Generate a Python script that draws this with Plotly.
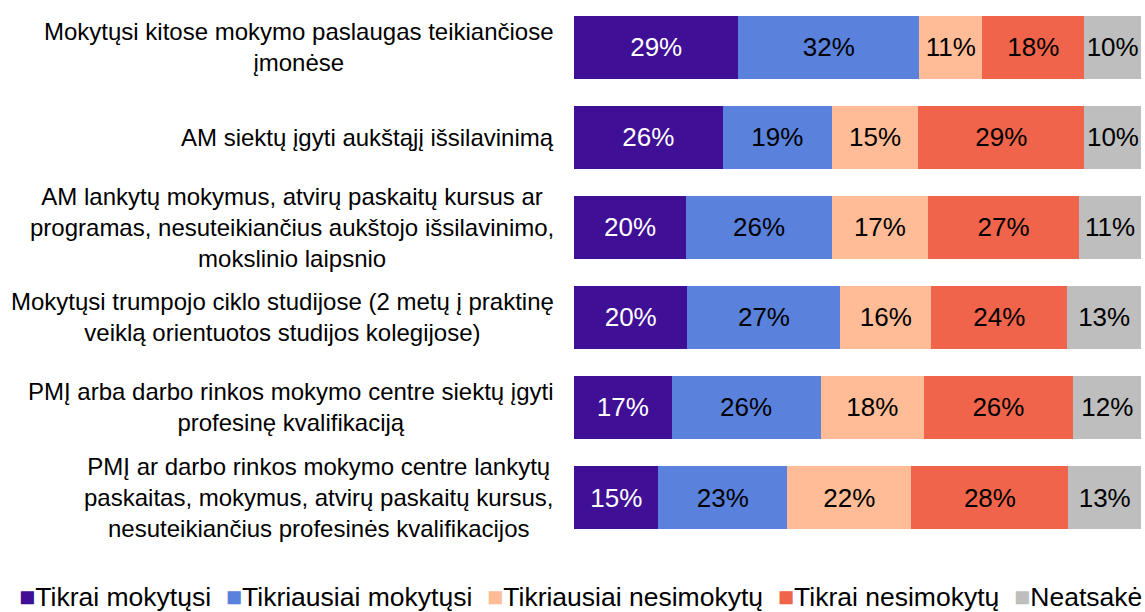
import plotly.graph_objects as go

categories = [
    "Mokytųsi kitose mokymo paslaugas teikiančiose<br>įmonėse",
    "AM siektų įgyti aukštąjį išsilavinimą",
    "AM lankytų mokymus, atvirų paskaitų kursus ar<br>programas, nesuteikiančius aukštojo išsilavinimo,<br>mokslinio laipsnio",
    "Mokytųsi trumpojo ciklo studijose (2 metų į praktinę<br>veiklą orientuotos studijos kolegijose)",
    "PMĮ arba darbo rinkos mokymo centre siektų įgyti<br>profesinę kvalifikaciją",
    "PMĮ ar darbo rinkos mokymo centre lankytų<br>paskaitas, mokymus, atvirų paskaitų kursus,<br>nesuteikiančius profesinės kvalifikacijos",
]

series_names = ["Tikrai mokytųsi", "Tikriausiai mokytųsi", "Tikriausiai nesimokytų",
                "Tikrai nesimokytų", "Neatsakė"]

tikrai_mokytusi = [29.0, 26.2, 19.8, 20.0, 17.2, 14.9]
tikriausiai_mokytusi = [31.9, 19.3, 25.7, 27.0, 26.3, 22.7]
tikriausiai_nesimokytu = [11.1, 15.2, 16.9, 16.0, 18.2, 21.9]
tikrai_nesimokytu = [18.0, 29.3, 26.7, 24.0, 26.3, 27.7]
neatsake = [10.0, 10.1, 10.9, 13.0, 12.1, 12.8]

series_values = [tikrai_mokytusi, tikriausiai_mokytusi, tikriausiai_nesimokytu,
                 tikrai_nesimokytu, neatsake]
colors = ["#3F0F96", "#5A82DC", "#FFBC96", "#F0644B", "#BEBEBE"]
text_colors = ["#FFFFFF", "#000000", "#000000", "#000000", "#000000"]

FONT = "Arial, 'Liberation Sans', sans-serif"

fig = go.Figure()
for name, vals, col, tcol in zip(series_names, series_values, colors, text_colors):
    fig.add_trace(go.Bar(
        y=list(range(len(categories))),
        x=vals,
        name=name,
        orientation="h",
        marker=dict(color=col, line=dict(width=0)),
        text=[f"{v:.0f}%" for v in vals],
        textposition="inside",
        insidetextanchor="middle",
        textangle=0,
        constraintext="none",
        textfont=dict(color=tcol, size=26, family=FONT),
        showlegend=False,
        hoverinfo="skip",
    ))

# category labels (centered multi-line, right aligned block)
for i, cat in enumerate(categories):
    fig.add_annotation(
        x=0, xref="paper", y=i, yref="y",
        text=cat, showarrow=False,
        xanchor="right", yanchor="middle", align="center",
        xshift=-18,
        font=dict(size=24, family=FONT, color="#000000"),
    )

# legend built as rich text (overflows the right edge like the original)
legend_parts = []
for name, col in zip(series_names, colors):
    legend_parts.append(
        f"<span style='color:{col};font-size:27px'>■</span>{name}"
    )
fig.add_annotation(
    x=0, xref="paper", y=0, yref="paper",
    xanchor="left", yanchor="middle",
    xshift=-557, yshift=-53,
    text="  ".join(legend_parts),
    showarrow=False, align="left",
    font=dict(size=26.5, family=FONT, color="#000000"),
)

fig.update_layout(
    barmode="stack",
    bargap=0.3,
    width=1145, height=612,
    margin=dict(l=574, r=4, t=2, b=68),
    plot_bgcolor="#FFFFFF",
    paper_bgcolor="#FFFFFF",
    xaxis=dict(range=[0, 100], visible=False, showgrid=False, zeroline=False),
    yaxis=dict(autorange="reversed", showticklabels=False, showgrid=False,
               zeroline=False, ticks=""),
    font=dict(family=FONT),
)

fig.write_html("out.html", config={"displayModeBar": False},
               post_script="document.body.style.margin='0';")
